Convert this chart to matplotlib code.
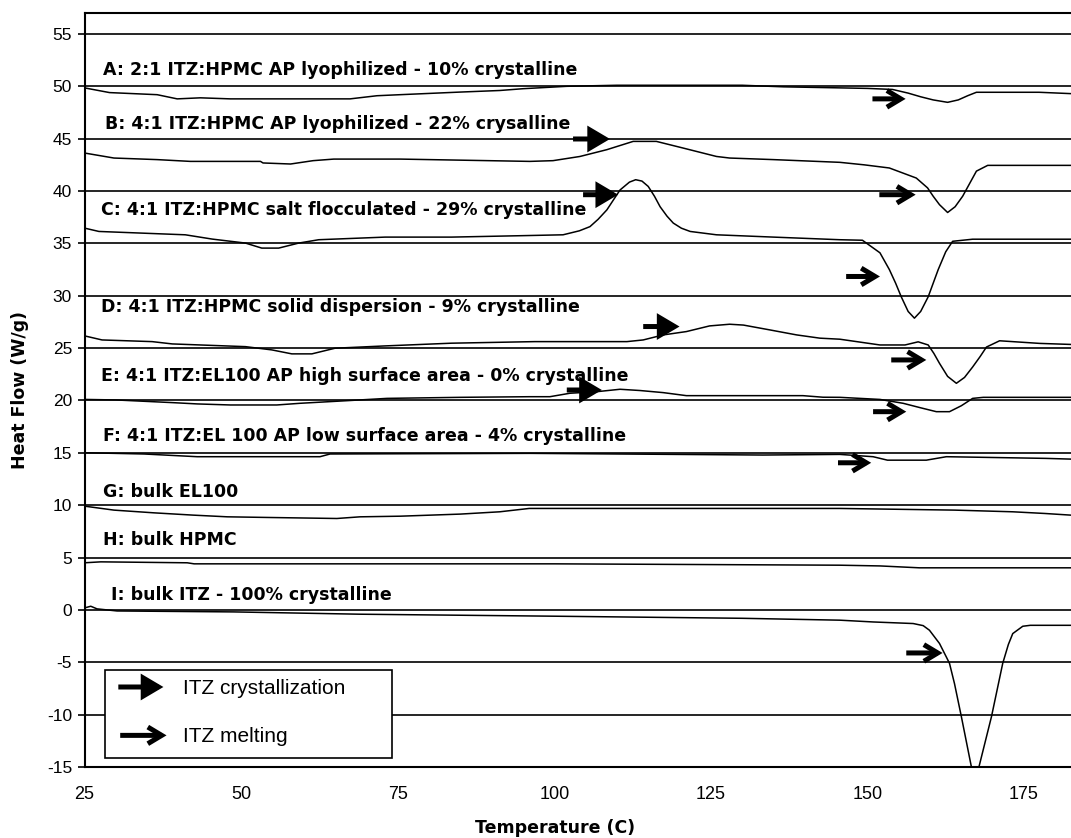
import numpy as np
import matplotlib.pyplot as plt
from matplotlib.patches import FancyArrowPatch, Rectangle

plt.rcParams["axes.unicode_minus"] = False

# DSC heat-flow traces, temperature (C) vs heat flow (W/g), each trace offset on the y axis
A_temp = [25, 29, 36.6, 39.8, 43.5, 48.3, 67.4, 71.7, 75.4, 85, 91.3, 95, 102, 110, 130, 136.6,
          145.6, 150, 154, 156.5, 158.5, 160.5, 162.8, 164.5, 166, 167.4, 177.4, 182.5]
A_flow = [49.85, 49.4, 49.2, 48.8, 48.9, 48.8, 48.8, 49.1, 49.2, 49.45, 49.6, 49.77, 50.0, 50.1, 50.1, 49.95,
          49.85, 49.8, 49.7, 49.35, 49.0, 48.7, 48.47, 48.7, 49.1, 49.43, 49.43, 49.3]

B_temp = [25, 29.7, 36.6, 41.9, 53.1, 53.5, 57.9, 61.5, 64.8, 75.4, 96.1, 99.8, 104.1, 108.4, 112.6,
          116.3, 120.6, 125.9, 128, 135, 145.6, 149.5, 153.5, 157.8, 159.6, 160.5, 161.5, 162.8, 164,
          165.2, 167.4, 169.2, 182.5]
B_flow = [43.63, 43.15, 43.0, 42.83, 42.83, 42.68, 42.58, 42.9, 43.05, 43.05, 42.83, 42.9, 43.3, 43.95, 44.74,
          44.74, 44.1, 43.3, 43.15, 43.0, 42.74, 42.5, 42.2, 41.24, 40.3, 39.5, 38.7, 37.95, 38.5,
          39.5, 41.9, 42.45, 42.45]

C_temp = [25, 27.3, 41.1, 45.4, 50.7, 53.3, 56, 59.2, 62.4, 73, 83.6, 94.3, 101.4, 104, 105.7, 107,
          108.4, 109.5, 110.5, 112, 113, 114, 115, 116, 116.9, 118, 119, 120.3, 121.7, 125.9, 135,
          145.6, 149.2, 152, 153.5, 154.5, 155.4, 156.5, 157.5, 158.5, 159.7, 160.5, 161.3, 162.5,
          163.6, 166.8, 182.5]
C_flow = [36.46, 36.14, 35.82, 35.41, 35.03, 34.55, 34.55, 35.03, 35.35, 35.6, 35.6, 35.73, 35.82, 36.2, 36.6, 37.3,
          38.2, 39.2, 40.1, 40.85, 41.08, 40.95, 40.44, 39.5, 38.5, 37.6, 36.94, 36.45, 36.14, 35.82, 35.6,
          35.35, 35.3, 34.1, 32.5, 31.2, 29.9, 28.5, 27.86, 28.5, 29.9, 31.2, 32.5, 34.2,
          35.2, 35.4, 35.4]

D_temp = [25, 27.8, 35.8, 39, 50.7, 54.9, 58.1, 61.3, 65, 73, 83.6, 96.9, 111.6, 114.2, 117.4, 121.1,
          124.8, 128, 130.2, 134.4, 138.7, 142.4, 145.6, 152, 156, 158.1, 159.7, 160.6, 161.5, 162.8,
          164.2, 165.5, 166.8, 168, 169, 171.1, 177.5, 182.5]
D_flow = [26.17, 25.78, 25.62, 25.4, 25.14, 24.83, 24.45, 24.45, 24.99, 25.21, 25.47, 25.62, 25.62, 25.78, 26.26, 26.58,
          27.12, 27.28, 27.2, 26.74, 26.26, 25.95, 25.85, 25.3, 25.3, 25.6, 25.3, 24.5, 23.55, 22.3,
          21.64, 22.2, 23.2, 24.2, 25.1, 25.7, 25.45, 25.35]

E_temp = [25, 30, 39.2, 43, 48.3, 55.7, 59.4, 66.9, 73.3, 85, 96.1, 99.3, 102.5, 106.8, 110.5, 113.7,
          117.4, 121.1, 139.7, 142.9, 145.6, 152, 155.7, 158.5, 161, 163.1, 165, 166.8, 168.5, 182.5]
E_flow = [20.1, 20.05, 19.79, 19.67, 19.57, 19.57, 19.73, 19.98, 20.2, 20.3, 20.36, 20.36, 20.69, 20.84, 21.07, 20.95,
          20.75, 20.46, 20.46, 20.31, 20.3, 20.1, 19.73, 19.3, 18.93, 18.93, 19.5, 20.2, 20.3, 20.3]

F_temp = [25, 34.5, 43, 62.6, 64.2, 96.1, 133.3, 145.6, 150.9, 153.2, 159.4, 162.6, 178.5, 182.5]
F_flow = [15.01, 14.89, 14.63, 14.63, 14.89, 14.95, 14.79, 14.85, 14.63, 14.3, 14.3, 14.63, 14.47, 14.4]

G_temp = [25, 29.7, 36.1, 42.4, 47.8, 54.1, 65.3, 69, 75.4, 85, 91.3, 96, 110, 145.6, 163.9, 173.2, 178.3, 182.5]
G_flow = [9.91, 9.53, 9.27, 9.05, 8.89, 8.83, 8.73, 8.89, 8.95, 9.15, 9.37, 9.69, 9.69, 9.69, 9.53, 9.37, 9.21, 9.05]

H_temp = [25, 27.6, 41.4, 42.5, 100, 145.6, 152, 158.3, 182.5]
H_flow = [4.5, 4.59, 4.5, 4.4, 4.4, 4.27, 4.2, 4.02, 4.02]

I_temp = [25, 26, 27, 30.2, 48.8, 69, 100, 130, 145.6, 150.9, 157.3, 158.9, 159.9, 161.5, 162.6, 163.1,
          163.9, 165, 166.6, 167.2, 167.8, 169.8, 171.6, 172.5, 173.2, 174.8, 176, 182.5]
I_flow = [0.19, 0.35, 0.1, -0.1, -0.19, -0.41, -0.6, -0.8, -0.98, -1.15, -1.3, -1.5, -1.94, -3.2, -4.5, -5.1,
          -7.04, -10.2, -15.0, -16.8, -15.0, -10.2, -5.1, -3.3, -2.26, -1.56, -1.47, -1.47]

curves = [(A_temp, A_flow), (B_temp, B_flow), (C_temp, C_flow), (D_temp, D_flow), (E_temp, E_flow),
          (F_temp, F_flow), (G_temp, G_flow), (H_temp, H_flow), (I_temp, I_flow)]

labels = [
    "A: 2:1 ITZ:HPMC AP lyophilized - 10% crystalline",
    "B: 4:1 ITZ:HPMC AP lyophilized - 22% crysalline",
    "C: 4:1 ITZ:HPMC salt flocculated - 29% crystalline",
    "D: 4:1 ITZ:HPMC solid dispersion - 9% crystalline",
    "E: 4:1 ITZ:EL100 AP high surface area - 0% crystalline",
    "F: 4:1 ITZ:EL 100 AP low surface area - 4% crystalline",
    "G: bulk EL100",
    "H: bulk HPMC",
    "I: bulk ITZ - 100% crystalline",
]
label_x = [27.9, 28.2, 27.6, 27.6, 27.6, 27.9, 28.0, 28.0, 29.2]
label_y = [51.6, 46.4, 38.2, 28.9, 22.3, 16.65, 11.3, 6.66, 1.45]

# arrow tail/tip temperature and heat-flow level
cryst_x0 = [103.0, 104.6, 114.2, 102.0]
cryst_x1 = [108.9, 110.2, 120.0, 107.6]
cryst_y = [44.97, 39.65, 27.06, 21.0]

melt_x0 = [150.8, 151.9, 146.6, 153.8, 150.9, 145.3, 156.2]
melt_x1 = [156.1, 157.7, 152.0, 159.4, 156.2, 150.6, 162.0]
melt_y = [48.8, 39.65, 31.84, 23.87, 18.93, 14.05, -4.11]

CRYST_STYLE = "-|>,head_length=11,head_width=6.5"
MELT_STYLE = "->,head_length=10,head_width=6"


def arrow(ax, x0, x1, y, style, lw=3.6):
    a = FancyArrowPatch((x0, y), (x1, y), arrowstyle=style, mutation_scale=1,
                        lw=lw, color="black", shrinkA=0, shrinkB=0, zorder=4,
                        joinstyle="miter", capstyle="butt")
    ax.add_patch(a)


fig = plt.figure(figsize=(10.71, 8.38), dpi=100)
ax = fig.add_axes([84.5 / 1071, 71 / 838, (1071 - 84.5) / 1071, 754 / 838])

for t, f in curves:
    ax.plot(t, f, color="black", lw=1.1, zorder=2)

for txt, x, y in zip(labels, label_x, label_y):
    ax.text(x, y, txt, fontsize=12.5, fontweight="bold", family="DejaVu Sans",
            va="center", ha="left", zorder=3)

for x0, x1, y in zip(cryst_x0, cryst_x1, cryst_y):
    arrow(ax, x0, x1, y, CRYST_STYLE)
for x0, x1, y in zip(melt_x0, melt_x1, melt_y):
    arrow(ax, x0, x1, y, MELT_STYLE)

# legend box
ax.add_patch(Rectangle((28.35, -14.1), 45.75, 8.4, facecolor="white",
                       edgecolor="black", lw=1.2, zorder=3))
arrow(ax, 30.4, 37.6, -7.36, CRYST_STYLE)
arrow(ax, 30.7, 38.1, -11.98, MELT_STYLE)
ax.text(40.8, -7.5, "ITZ crystallization", fontsize=15, family="Liberation Sans",
        va="center", ha="left", zorder=4)
ax.text(40.8, -12.1, "ITZ melting", fontsize=15, family="Liberation Sans",
        va="center", ha="left", zorder=4)

ax.set_xlim(25, 182.5)
ax.set_ylim(-15, 57)
ax.set_xticks(np.arange(25, 180, 25))
ax.set_yticks(np.arange(-15, 56, 5))
ax.yaxis.grid(True, color="black", lw=1.2)
ax.tick_params(axis="x", length=0, pad=14, labelsize=13)
ax.tick_params(axis="y", length=5, width=1.2, direction="out", pad=4, labelsize=12.5)
for lab in ax.get_xticklabels() + ax.get_yticklabels():
    lab.set_family("Liberation Sans")

ax.spines["right"].set_visible(False)
for s in ["left", "top", "bottom"]:
    ax.spines[s].set_linewidth(1.5)

fig.text(555 / 1071, 1 - 828 / 838, "Temperature (C)", fontsize=12.5, fontweight="bold",
         ha="center", va="center")
fig.text(20 / 1071, 1 - 390 / 838, "Heat Flow (W/g)", fontsize=12.5, fontweight="bold",
         ha="center", va="center", rotation=90)

fig.savefig("out.png", dpi=100)
